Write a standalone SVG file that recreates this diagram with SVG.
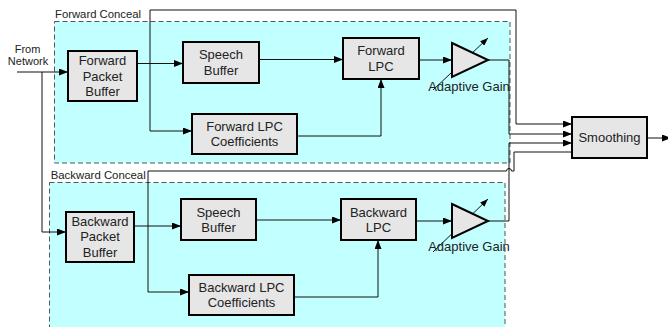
<svg xmlns="http://www.w3.org/2000/svg" width="668" height="327" viewBox="0 0 668 327">
<style>
.region{fill:#c2ffff;stroke:#555;stroke-width:1;stroke-dasharray:5,3}
.rlabel{font-family:"Liberation Sans",Arial,sans-serif;font-size:11px;fill:#222}
.box{fill:#e6e6e6;stroke:#000;stroke-width:2}
.t{font-family:"Liberation Sans",Arial,sans-serif;font-size:13px;fill:#222;text-anchor:middle}
.small{font-family:"Liberation Sans",Arial,sans-serif;font-size:11px;fill:#222;text-anchor:middle}
.c{fill:none;stroke:#111;stroke-width:1}
.ca{fill:none;stroke:#111;stroke-width:1;marker-end:url(#ah)}
.amp{fill:#e6e6e6;stroke:#000;stroke-width:2;stroke-linejoin:miter}
.garrow{fill:none;stroke:#111;stroke-width:1;marker-end:url(#ah2)}
</style>
<defs>
<marker id="ah" markerWidth="9" markerHeight="7" refX="9" refY="3.5" orient="auto" markerUnits="userSpaceOnUse"><path d="M0,0 L9,3.5 L0,7 z" fill="#000"/></marker>
<marker id="ah2" markerWidth="8" markerHeight="6" refX="8" refY="3" orient="auto" markerUnits="userSpaceOnUse"><path d="M0,0 L8,3 L0,6 z" fill="#000"/></marker>
</defs>
<rect width="668" height="327" fill="#fff"/>

<g id="region-forward">
<rect class="region" x="54.5" y="21.5" width="455.5" height="141.5"/>
<text class="rlabel" x="55" y="18.3" textLength="86" lengthAdjust="spacingAndGlyphs">Forward Conceal</text>
</g>
<g id="region-backward">
<rect class="region" x="49.5" y="182.5" width="455.5" height="150"/>
<text class="rlabel" x="50.7" y="179.3" textLength="95" lengthAdjust="spacingAndGlyphs">Backward Conceal</text>
</g>

<g id="input-label">
<text class="small" x="27.5" y="52.7">From</text>
<text class="small" x="28" y="65.3">Network</text>
</g>

<g id="connectors">
<path class="ca" d="M17,72 L68,72"/>
<path class="ca" d="M42,72 L42,232 L66,232"/>
<path class="ca" d="M137,63.5 L183,63.5"/>
<path class="ca" d="M150,10 L150,131 L192,131"/>
<path class="ca" d="M150,10 L516,10 L516,124 L572,124"/>
<path class="ca" d="M259,59.5 L343,59.5"/>
<path class="ca" d="M297,136 L381,136 L381,79"/>
<path class="ca" d="M419,60 L452,60"/>
<path class="ca" d="M488,60 L509,60 L509,134 L572,134"/>
<path class="ca" d="M488,221 L509,221 L509,143 L572,143"/>
<path class="ca" d="M572,152 L514,152 L514,171 L511.5,171 A2.5,2.5 0 0 0 506.5,171 L148,171 L148,292 L189,292" style="marker-end:url(#ah);"/>
<path class="ca" d="M134,226 L181,226"/>
<path class="ca" d="M256,220 L341,220"/>
<path class="ca" d="M294,297 L378,297 L378,240"/>
<path class="ca" d="M416,221 L452,221"/>
<path class="ca" d="M647,138 L671,138"/>
</g>

<g id="fwd-packet-buffer">
<rect class="box" x="68" y="51" width="69" height="50"/>
<text class="t" x="102.5" y="64.5">Forward</text>
<text class="t" x="102.5" y="80.5">Packet</text>
<text class="t" x="102.5" y="96">Buffer</text>
</g>
<g id="fwd-speech-buffer">
<rect class="box" x="183" y="42" width="76" height="41"/>
<text class="t" x="221" y="59.3">Speech</text>
<text class="t" x="221" y="75">Buffer</text>
</g>
<g id="fwd-lpc-coeff">
<rect class="box" x="192" y="114" width="105" height="40"/>
<text class="t" x="244.5" y="130.5">Forward LPC</text>
<text class="t" x="244.5" y="146.3">Coefficients</text>
</g>
<g id="fwd-lpc">
<rect class="box" x="343" y="38" width="76" height="41"/>
<text class="t" x="381" y="55.2">Forward</text>
<text class="t" x="381" y="70.9">LPC</text>
</g>
<g id="fwd-gain">
<path class="garrow" d="M433,90 L488,38"/>
<path class="amp" d="M452,43 L488,60 L452,77 z"/>
<text class="t" x="469" y="90.5">Adaptive Gain</text>
</g>

<g id="bwd-packet-buffer">
<rect class="box" x="66" y="212" width="68" height="50"/>
<text class="t" x="100" y="225.5">Backward</text>
<text class="t" x="100" y="241">Packet</text>
<text class="t" x="100" y="256.6">Buffer</text>
</g>
<g id="bwd-speech-buffer">
<rect class="box" x="181" y="199" width="75" height="41"/>
<text class="t" x="218.5" y="216.5">Speech</text>
<text class="t" x="218.5" y="232">Buffer</text>
</g>
<g id="bwd-lpc-coeff">
<rect class="box" x="189" y="275" width="105" height="40"/>
<text class="t" x="241.5" y="291.8">Backward LPC</text>
<text class="t" x="241.5" y="307.4">Coefficients</text>
</g>
<g id="bwd-lpc">
<rect class="box" x="341" y="199" width="75" height="41"/>
<text class="t" x="378.5" y="216.5">Backward</text>
<text class="t" x="378.5" y="232">LPC</text>
</g>
<g id="bwd-gain">
<path class="garrow" d="M433,252 L488,199"/>
<path class="amp" d="M452,204 L488,221 L452,238 z"/>
<text class="t" x="469" y="251">Adaptive Gain</text>
</g>

<g id="smoothing">
<rect class="box" x="572" y="117" width="75" height="41"/>
<text class="t" x="609.5" y="142">Smoothing</text>
</g>
</svg>
